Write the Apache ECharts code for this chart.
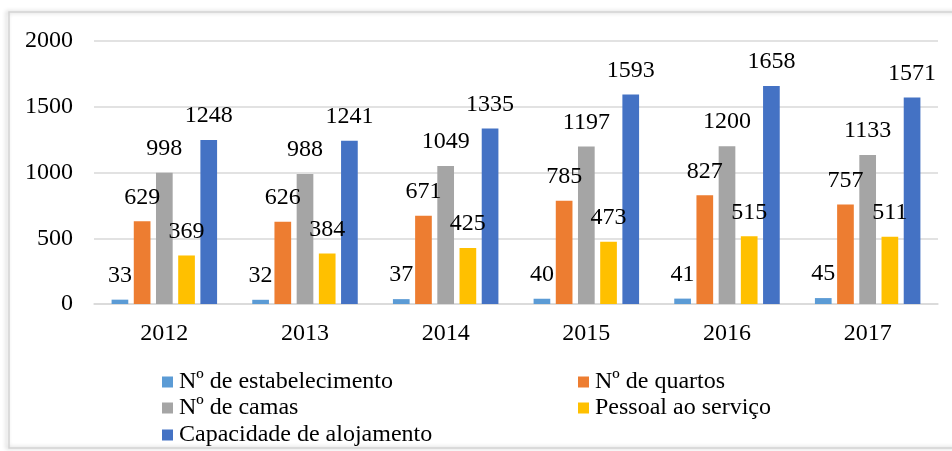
<!DOCTYPE html>
<html>
<head>
<meta charset="utf-8">
<script src="https://cdn.jsdelivr.net/npm/echarts@6/dist/echarts.min.js"></script>
<style>
html, body { margin: 0; padding: 0; background: #fff; }
#chart { width: 952px; height: 451px; }
</style>
</head>
<body>
<div id="chart"></div>
<script>
// anos e valores
var years = ['2012', '2013', '2014', '2015', '2016', '2017'];
var estabelecimentos = [33, 32, 37, 40, 41, 45];
var quartos = [629, 626, 671, 785, 827, 757];
var camas = [998, 988, 1049, 1197, 1200, 1133];
var pessoal = [369, 384, 425, 473, 515, 511];
var capacidade = [1248, 1241, 1335, 1593, 1658, 1571];
var seriesNames = ['Nº de estabelecimento', 'Nº de quartos', 'Nº de camas', 'Pessoal ao serviço', 'Capacidade de alojamento'];
var colors = ['#5B9BD5', '#ED7D31', '#A5A5A5', '#FFC000', '#4472C4'];

var fontFamily = 'Liberation Serif, Times New Roman, serif';
var fontSize = 24;
var myChart = echarts.init(document.getElementById('chart'));

function makeSeries(i, data) {
    return {
        name: seriesNames[i],
        type: 'bar',
        data: data,
        itemStyle: { color: colors[i] },
        barGap: '33%',
        barCategoryGap: '25%',
        label: {
            show: true,
            position: 'top',
            distance: 12,
            color: '#000',
            fontSize: fontSize,
            fontFamily: fontFamily
        }
    }
}

// uma legenda por item, em duas colunas
var legendPos = [[162, 370], [578, 370], [162, 396], [578, 396], [162, 423]];
var legends = seriesNames.map(function (name, i) {
    return {
        left: legendPos[i][0],
        top: legendPos[i][1],
        padding: 0,
        itemWidth: 11,
        itemHeight: 11,
        itemGap: 0,
        icon: 'rect',
        textStyle: { color: '#000', fontSize: fontSize, fontFamily: fontFamily, padding: [0, 0, 0, 1] },
        data: [name]
    }
})

var option = {
    animation: false,
    backgroundColor: '#fff',
    textStyle: { fontFamily: fontFamily },
    graphic: [{
        type: 'rect',
        shape: { x: 9, y: 12, width: 960, height: 436 },
        style: {
            fill: 'none',
            stroke: '#d4d4d4',
            lineWidth: 1.5,
            shadowBlur: 4,
            shadowOffsetX: -2,
            shadowColor: 'rgba(0,0,0,0.25)'
        },
        z: -1
    }],
    legend: legends,
    grid: {
        left: 94,
        right: 14,
        top: 41,
        bottom: 147,
        containLabel: false
    },
    xAxis: {
        type: 'category',
        data: years,
        axisLine: { lineStyle: { color: '#d9d9d9', width: 1.5 } },
        axisTick: { show: false },
        axisLabel: { color: '#000', fontSize: fontSize, fontFamily: fontFamily, margin: 18 }
    },
    yAxis: {
        type: 'value',
        min: 0,
        max: 2000,
        interval: 500,
        axisLine: { show: false },
        axisTick: { show: false },
        splitLine: { lineStyle: { color: '#d9d9d9', width: 1.5 } },
        axisLabel: {
            color: '#000', fontSize: fontSize, fontFamily: fontFamily, margin: 21,
            formatter: function (v) { return String(v) }
        }
    },
    series: [
        makeSeries(0, estabelecimentos),
        makeSeries(1, quartos),
        makeSeries(2, camas),
        makeSeries(3, pessoal),
        makeSeries(4, capacidade)
    ]
}
myChart.setOption(option)
</script>
</body>
</html>
